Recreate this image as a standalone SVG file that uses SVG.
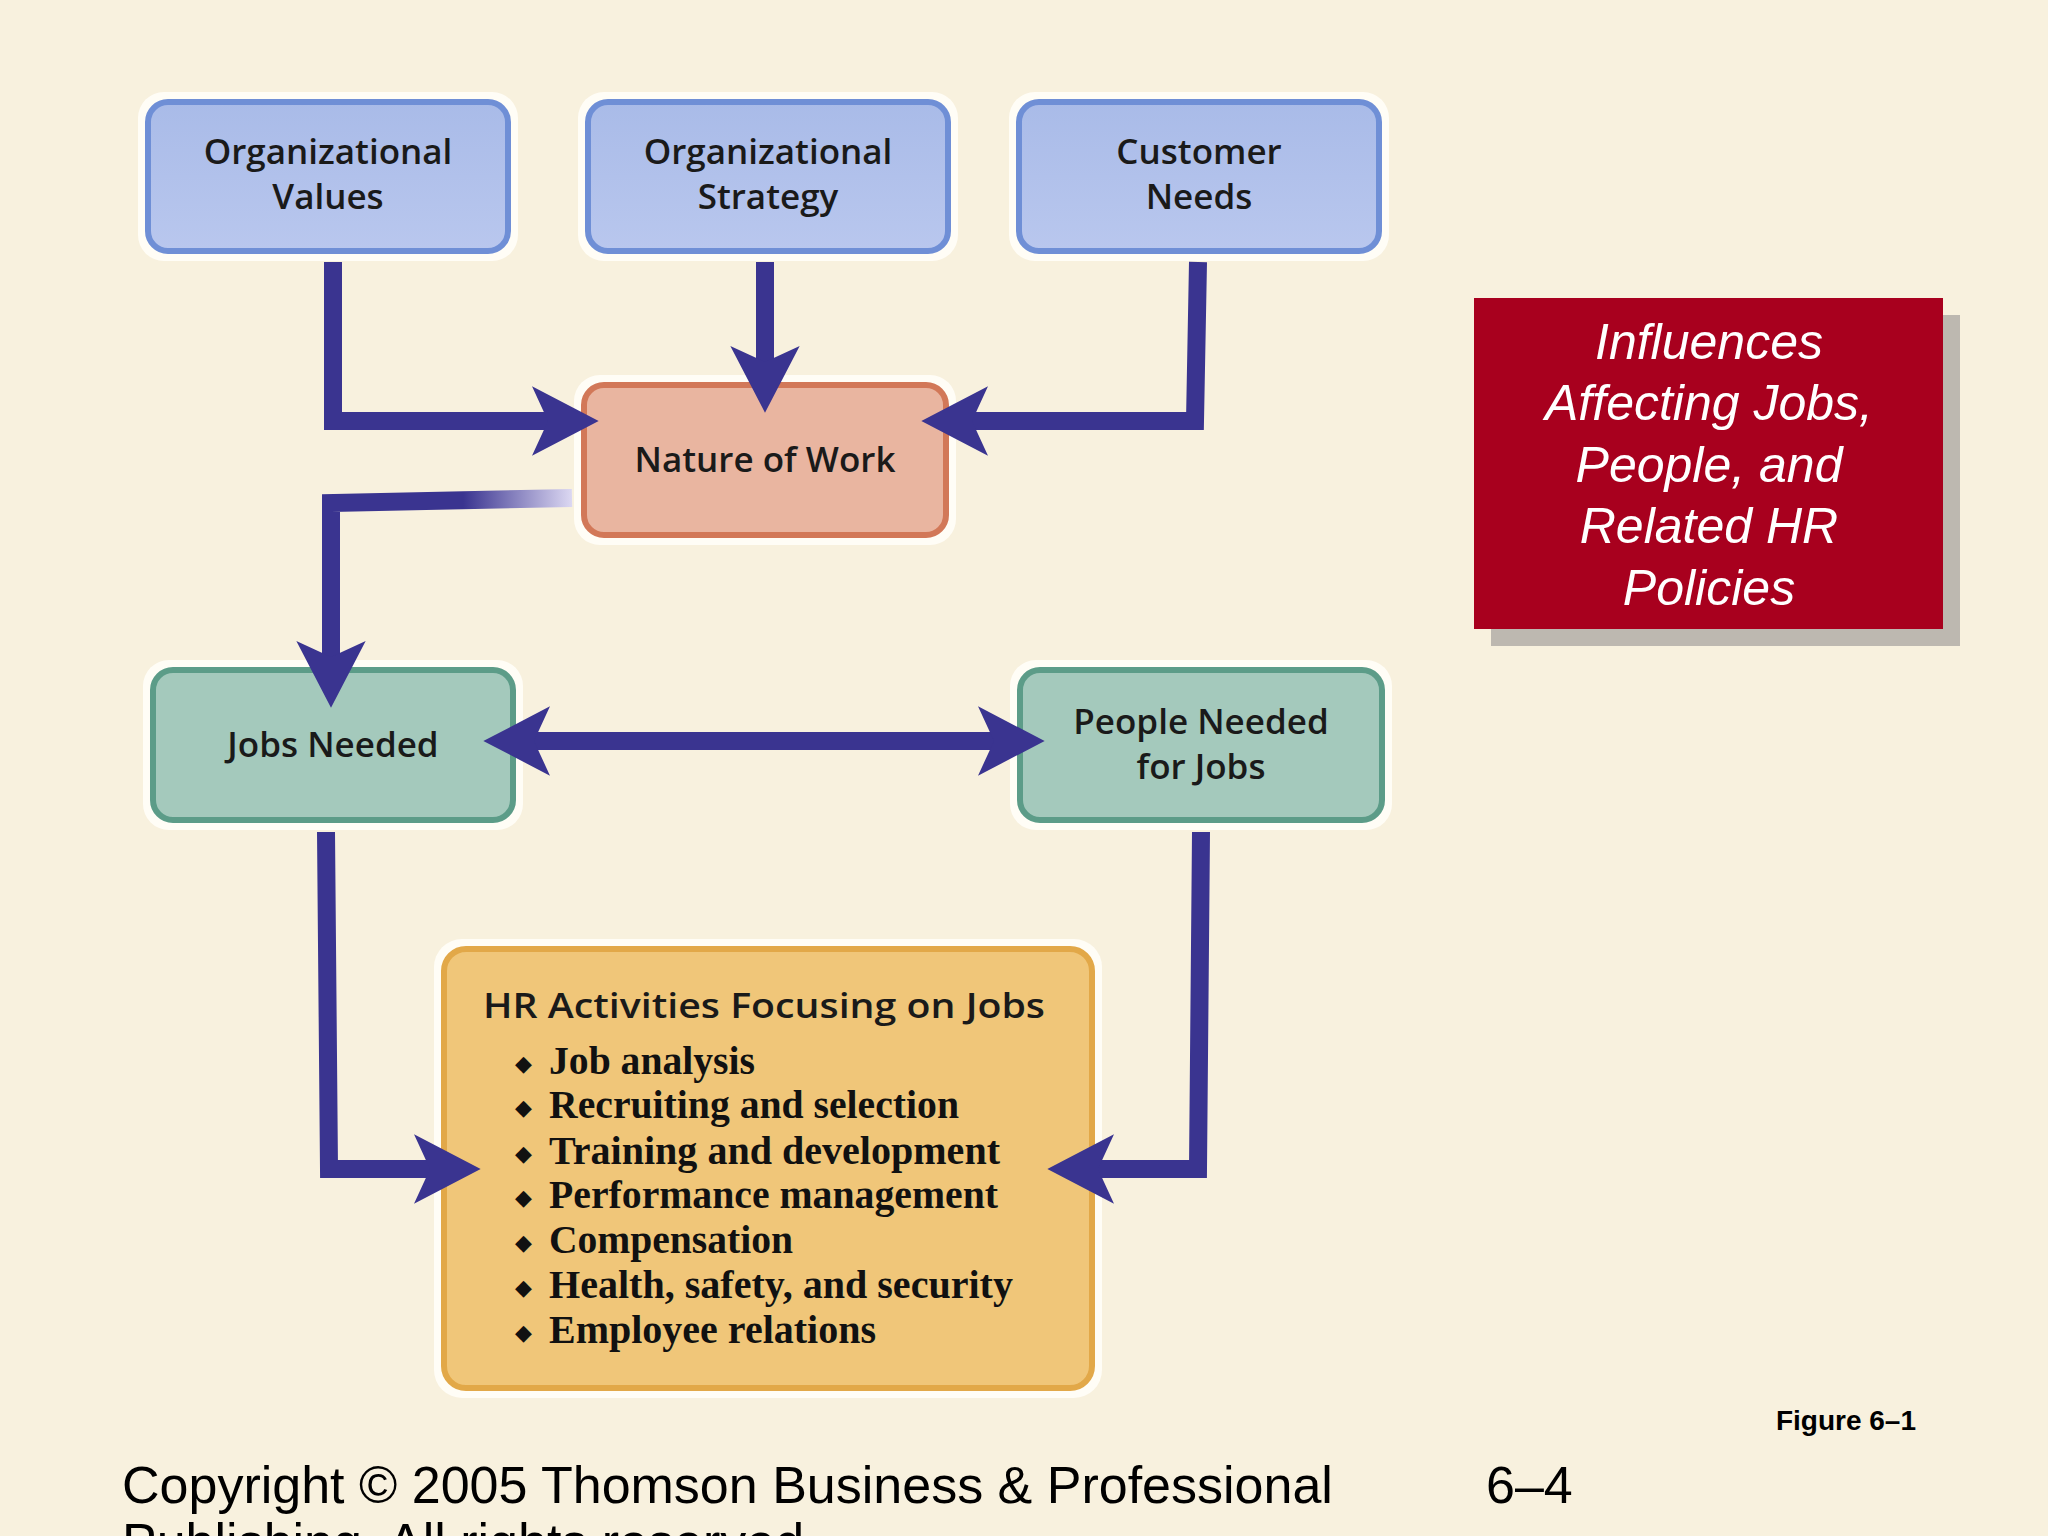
<svg xmlns="http://www.w3.org/2000/svg" width="2048" height="1536" viewBox="0 0 2048 1536">
<style>
.halo{fill:#fffdf6;stroke:none}
.nt{font-family:"Open Sans","DejaVu Sans",sans-serif;font-weight:600;font-size:35px;fill:#1a1a1a;text-anchor:middle}
.bl{font-family:"Liberation Serif",serif;font-weight:bold;font-size:40px;fill:#111}
.ar{fill:none;stroke:#3a3490;stroke-width:18;stroke-linejoin:miter}
.rt{font-family:"Liberation Sans",Arial,sans-serif;font-style:italic;font-size:50px;fill:#fff;text-anchor:middle}
</style>
<defs>
<marker id="ah" markerUnits="userSpaceOnUse" markerWidth="80" markerHeight="80" viewBox="-5 -30 60 60" refX="12" refY="0" orient="auto"><path d="M0,-26 L50,0 L0,26 L12,0 z" fill="#3a3490"/></marker>
<marker id="ahs" markerUnits="userSpaceOnUse" markerWidth="80" markerHeight="80" viewBox="-5 -30 60 60" refX="12" refY="0" orient="auto-start-reverse"><path d="M0,-26 L50,0 L0,26 L12,0 z" fill="#3a3490"/></marker>
<linearGradient id="blue" x1="0" y1="0" x2="0" y2="1"><stop offset="0" stop-color="#a9bbe8"/><stop offset="1" stop-color="#b9c7ee"/></linearGradient>
<linearGradient id="fade" gradientUnits="userSpaceOnUse" x1="572" y1="0" x2="300" y2="0"><stop offset="0" stop-color="#dcd8f2"/><stop offset="0.4" stop-color="#3a3490"/><stop offset="1" stop-color="#3a3490"/></linearGradient>
</defs>
<rect width="2048" height="1536" fill="#f8f1de"/>
<g id="org-values"><rect class="halo" x="138" y="92" width="380" height="169" rx="26"/><rect x="148" y="102" width="360" height="149" rx="20" fill="url(#blue)" stroke="#6f8fd6" stroke-width="6"/><text class="nt" x="328" y="164">Organizational</text><text class="nt" x="328" y="209">Values</text></g>
<g id="org-strategy"><rect class="halo" x="578" y="92" width="380" height="169" rx="26"/><rect x="588" y="102" width="360" height="149" rx="20" fill="url(#blue)" stroke="#6f8fd6" stroke-width="6"/><text class="nt" x="768" y="164">Organizational</text><text class="nt" x="768" y="209">Strategy</text></g>
<g id="customer-needs"><rect class="halo" x="1009" y="92" width="380" height="169" rx="26"/><rect x="1019" y="102" width="360" height="149" rx="20" fill="url(#blue)" stroke="#6f8fd6" stroke-width="6"/><text class="nt" x="1199" y="164">Customer</text><text class="nt" x="1199" y="209">Needs</text></g>
<g id="nature-of-work"><rect class="halo" x="574" y="375" width="382" height="170" rx="26"/><rect x="584" y="385" width="362" height="150" rx="20" fill="#e9b5a0" stroke="#d27858" stroke-width="6"/><text class="nt" x="765" y="472">Nature of Work</text></g>
<g id="jobs-needed"><rect class="halo" x="143" y="660" width="380" height="170" rx="26"/><rect x="153" y="670" width="360" height="150" rx="20" fill="#a4c9bc" stroke="#5c9c88" stroke-width="6"/><text class="nt" x="333" y="757">Jobs Needed</text></g>
<g id="people-needed"><rect class="halo" x="1010" y="660" width="382" height="170" rx="26"/><rect x="1020" y="670" width="362" height="150" rx="20" fill="#a4c9bc" stroke="#5c9c88" stroke-width="6"/><text class="nt" x="1201" y="734">People Needed</text><text class="nt" x="1201" y="779">for Jobs</text></g>
<g id="hr-activities"><rect class="halo" x="434" y="939" width="668" height="459" rx="28"/><rect x="444" y="949" width="648" height="439" rx="22" fill="#f0c679" stroke="#e2a848" stroke-width="6"/>
<text class="nt" x="483" y="1018" style="text-anchor:start" textLength="562" lengthAdjust="spacingAndGlyphs">HR Activities Focusing on Jobs</text>
<g font-family="Liberation Serif,serif" font-size="22" fill="#111"><text x="515" y="1071">◆</text><text x="515" y="1115">◆</text><text x="515" y="1161">◆</text><text x="515" y="1205">◆</text><text x="515" y="1250">◆</text><text x="515" y="1295">◆</text><text x="515" y="1340">◆</text></g>
<text class="bl" x="549" y="1074" textLength="206" lengthAdjust="spacingAndGlyphs">Job analysis</text>
<text class="bl" x="549" y="1118" textLength="410" lengthAdjust="spacingAndGlyphs">Recruiting and selection</text>
<text class="bl" x="549" y="1164" textLength="451" lengthAdjust="spacingAndGlyphs">Training and development</text>
<text class="bl" x="549" y="1208" textLength="449" lengthAdjust="spacingAndGlyphs">Performance management</text>
<text class="bl" x="549" y="1253" textLength="244" lengthAdjust="spacingAndGlyphs">Compensation</text>
<text class="bl" x="549" y="1298" textLength="464" lengthAdjust="spacingAndGlyphs">Health, safety, and security</text>
<text class="bl" x="549" y="1343" textLength="327" lengthAdjust="spacingAndGlyphs">Employee relations</text>
</g>
<g id="connectors">
<path class="ar" d="M333,262 L333,421 L548,421" marker-end="url(#ah)"/>
<path class="ar" d="M765,262 L765,362" marker-end="url(#ah)"/>
<path class="ar" d="M1198,262 L1195,421 L972,421" marker-end="url(#ah)"/>
<path d="M572,498 L331,503 L331,657" fill="none" stroke="url(#fade)" stroke-width="18"/>
<path d="M331,640 L331,657" fill="none" stroke="#3a3490" stroke-width="18" marker-end="url(#ah)"/>
<path class="ar" d="M534,741 L994,741" marker-start="url(#ahs)" marker-end="url(#ah)"/>
<path class="ar" d="M326,832 L329,1169 L430,1169" marker-end="url(#ah)"/>
<path class="ar" d="M1201,832 L1198,1169 L1098,1169" marker-end="url(#ah)"/>
</g>
<g id="title-box"><rect x="1491" y="315" width="469" height="331" fill="#bdb8b0"/><rect x="1474" y="298" width="469" height="331" fill="#a8001e"/>
<text class="rt" x="1709" y="359">Influences</text><text class="rt" x="1709" y="420">Affecting Jobs,</text><text class="rt" x="1709" y="482">People, and</text><text class="rt" x="1709" y="543">Related HR</text><text class="rt" x="1709" y="605">Policies</text></g>
<text x="1916" y="1430" text-anchor="end" font-family="Liberation Sans,Arial,sans-serif" font-weight="bold" font-size="28" fill="#000">Figure 6–1</text>
<text x="122" y="1503" font-family="Liberation Sans,Arial,sans-serif" font-size="52" fill="#000">Copyright © 2005 Thomson Business &amp; Professional</text>
<text x="122" y="1560" font-family="Liberation Sans,Arial,sans-serif" font-size="52" fill="#000">Publishing. All rights reserved.</text>
<text x="1486" y="1503" font-family="Liberation Sans,Arial,sans-serif" font-size="52" fill="#000">6–4</text>
</svg>
